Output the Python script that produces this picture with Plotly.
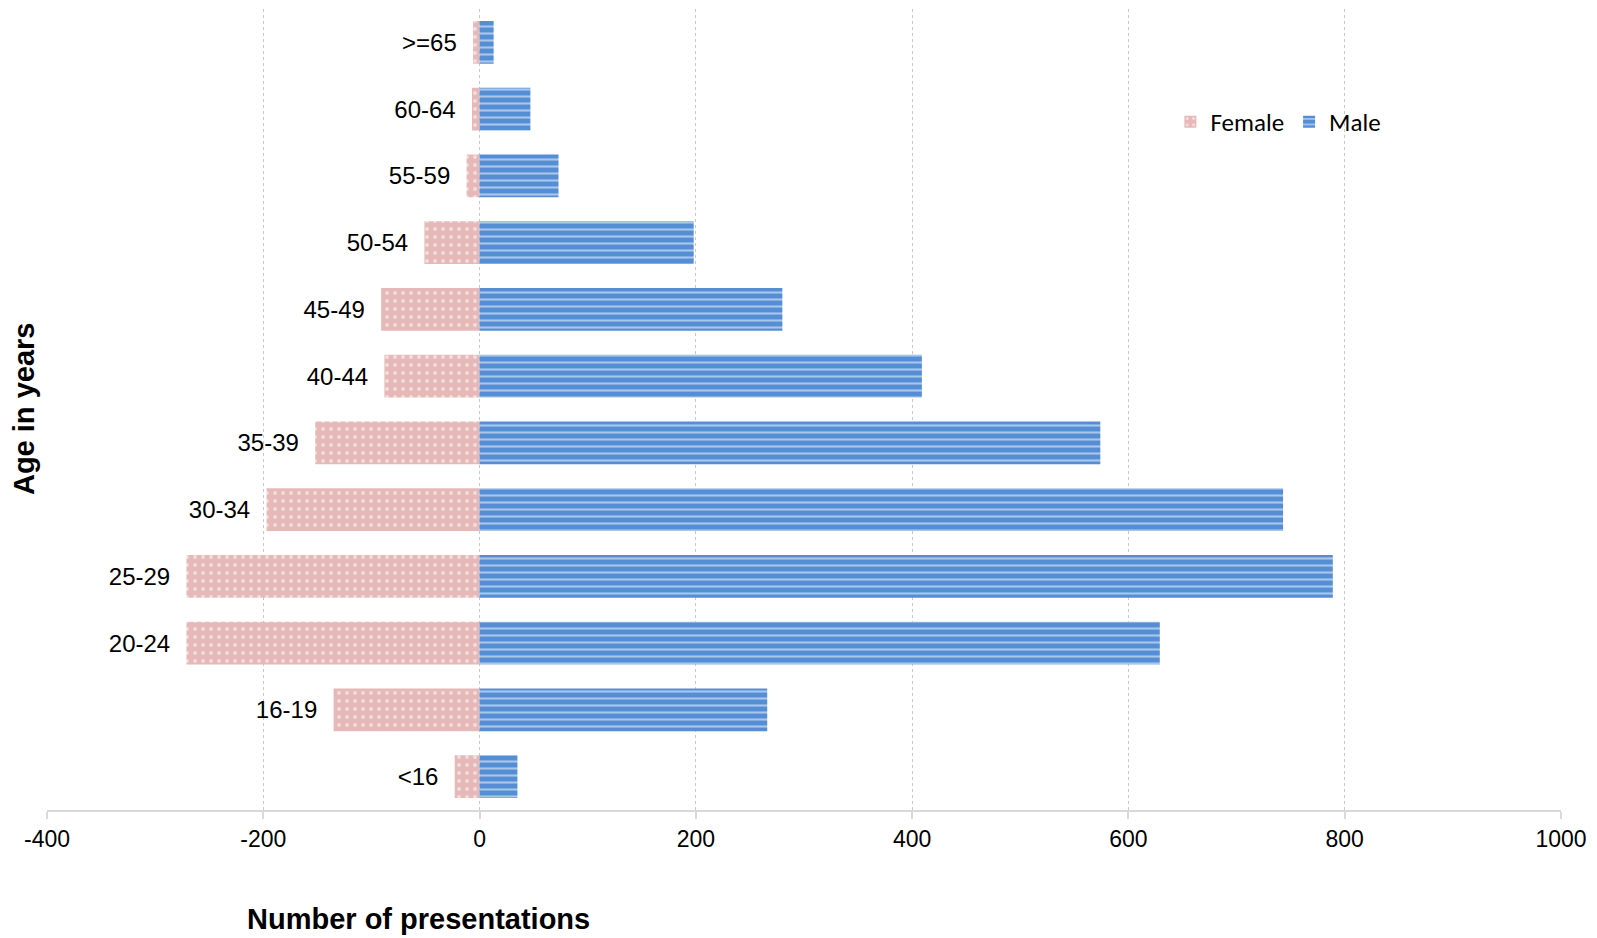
import plotly.graph_objects as go

# Age groups, bottom to top
age_groups = ["<16", "16-19", "20-24", "25-29", "30-34", "35-39",
              "40-44", "45-49", "50-54", "55-59", "60-64", ">=65"]

# Presentations by sex (female plotted as negative counts)
female = [-23, -135, -271, -271, -197, -152, -88, -91, -51, -12, -7, -6]
male = [35, 266, 629, 789, 743, 574, 409, 280, 198, 73, 47, 13]

x_ticks = [-400, -200, 0, 200, 400, 600, 800, 1000]
x_tick_labels = ["-400", "-200", "0", "200", "400", "600", "800", "1000"]

PINK = "#E6B9B8"
BLUE = "#558ED5"
GRID = "#C8C8C8"
AXIS = "#D9D9D9"

fig = go.Figure()

fig.add_trace(go.Bar(
    name="Female",
    y=age_groups,
    x=female,
    orientation="h",
    marker=dict(
        color=PINK,
        line=dict(width=0),
        pattern=dict(shape=".", fgcolor="white", bgcolor=PINK,
                     size=8, solidity=0.18, fillmode="overlay"),
    ),
    text=age_groups,
    texttemplate="%{text}\u00a0\u00a0",
    textposition="outside",
    textfont=dict(family="Liberation Sans, Arial", size=24, color="black"),
    constraintext="none",
    cliponaxis=False,
    hoverinfo="x+y",
))

fig.add_trace(go.Bar(
    name="Male",
    y=age_groups,
    x=male,
    orientation="h",
    marker=dict(
        color=BLUE,
        line=dict(width=0),
        pattern=dict(shape="-", fgcolor="white", bgcolor=BLUE,
                     size=7, solidity=0.3, fillmode="overlay"),
    ),
    hoverinfo="x+y",
))

# white panel behind the legend
fig.add_shape(type="rect", xref="paper", yref="paper",
              x0=0.7285, x1=0.8837, y0=0.7765, y1=0.9388,
              fillcolor="white", line=dict(width=0), layer="below")

fig.add_annotation(text="<b>Age in years</b>", xref="paper", yref="paper",
                   x=-0.0155, y=0.5, xanchor="center", yanchor="middle",
                   textangle=-90, showarrow=False,
                   font=dict(family="Liberation Sans, Arial", size=29, color="black"))
fig.add_annotation(text="<b>Number of presentations</b>", xref="paper", yref="paper",
                   x=(418 - 47) / 1514, y=-0.136, xanchor="center", yanchor="middle",
                   showarrow=False,
                   font=dict(family="Liberation Sans, Arial", size=29, color="black"))

fig.update_layout(
    width=1597, height=938,
    margin=dict(l=47, r=36, t=9, b=128),
    paper_bgcolor="white", plot_bgcolor="white",
    barmode="overlay",
    bargap=0.36,
    showlegend=True,
    legend=dict(orientation="h", x=0.742, y=0.859, xanchor="left", yanchor="middle",
                bgcolor="rgba(0,0,0,0)",
                font=dict(family="Carlito, Calibri, Lato", size=25, color="black"),
                itemwidth=30, traceorder="normal"),
    xaxis=dict(range=[-400, 1000], tickvals=x_ticks, ticktext=x_tick_labels,
               showgrid=True, gridcolor=GRID, griddash="dot", gridwidth=1,
               zeroline=False,
               showline=True, linecolor=AXIS, linewidth=2,
               ticks="outside", ticklen=7, tickcolor=AXIS, tickwidth=2,
               tickfont=dict(family="Liberation Sans, Arial", size=23, color="black"),
               fixedrange=True),
    yaxis=dict(range=[-0.5, 11.5], showticklabels=False, showgrid=False,
               zeroline=False, showline=False, ticks="", fixedrange=True),
)

fig.write_html("out.html")
